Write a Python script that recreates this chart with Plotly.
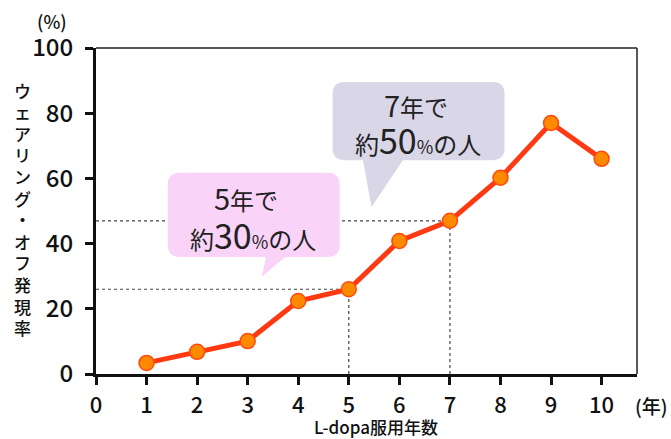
import plotly.graph_objects as go

years = [1, 2, 3, 4, 5, 6, 7, 8, 9, 10]
rate = [3.4, 6.8, 10.1, 22.4, 26.0, 40.8, 47.0, 60.2, 77.0, 66.0]
x_ticks = [0, 1, 2, 3, 4, 5, 6, 7, 8, 9, 10]
y_ticks = [0, 20, 40, 60, 80, 100]
y_title = "ウェアリング・オフ発現率"
x_title = "L-dopa服用年数"
highlight_years = [5, 7]
highlight_pct = [30, 50]

FONT = "Noto Sans CJK JP"
INK = "#111111"

fig = go.Figure()

# dotted guide lines from highlighted points
for hy in highlight_years:
    v = rate[years.index(hy)]
    fig.add_shape(type="line", xref="x", yref="y", x0=0, x1=hy, y0=v, y1=v,
                  line=dict(color="#444444", width=1.2, dash="dot"), layer="below")
    fig.add_shape(type="line", xref="x", yref="y", x0=hy, x1=hy, y0=0, y1=v,
                  line=dict(color="#444444", width=1.2, dash="dot"), layer="below")


def bubble(x0, x1, y0, y1, tx0, tx1, px, py, rx=0.24, ry=3.7):
    return (f"M {x0+rx},{y1} L {x1-rx},{y1} Q {x1},{y1} {x1},{y1-ry} "
            f"L {x1},{y0+ry} Q {x1},{y0} {x1-rx},{y0} L {tx1},{y0} L {px},{py} "
            f"L {tx0},{y0} L {x0+rx},{y0} Q {x0},{y0} {x0},{y0+ry} "
            f"L {x0},{y1-ry} Q {x0},{y1} {x0+rx},{y1} Z")


fig.add_shape(type="path", xref="x", yref="y", layer="below",
              path=bubble(1.42, 4.82, 35.9, 61.7, 3.36, 3.74, 3.28, 29.8),
              fillcolor="#FAD4F8", line=dict(width=0))
fig.add_shape(type="path", xref="x", yref="y", layer="below",
              path=bubble(4.68, 8.08, 65.6, 89.6, 5.28, 6.07, 5.45, 51.2),
              fillcolor="#D9D6E8", line=dict(width=0))

fig.add_trace(go.Scatter(
    x=years, y=rate, mode="lines+markers",
    line=dict(color="#FF3A12", width=5),
    marker=dict(size=15, color="#FF8A00", line=dict(color="#FF4A10", width=1.5)),
    showlegend=False, cliponaxis=False,
))

# bubble texts (two lines each)
bubble_pos = [((2.96, 54.3), (3.10, 42.9)), ((6.32, 82.8), (6.36, 71.8))]
for hy, pct, (p1, p2) in zip(highlight_years, highlight_pct, bubble_pos):
    fig.add_annotation(x=p1[0], y=p1[1], xref="x", yref="y", showarrow=False,
                       text=f"<span style='font-size:29px'>{hy}</span>年で",
                       font=dict(family=FONT, size=24, color="#222222"))
    fig.add_annotation(x=p2[0], y=p2[1], xref="x", yref="y", showarrow=False,
                       text=(f"約<span style='font-size:34px'>{pct}</span>"
                             f"<span style='font-size:18px'>%</span>の人"),
                       font=dict(family=FONT, size=24, color="#222222"))

# frame top/right thin lines
fig.add_shape(type="line", xref="paper", yref="paper", x0=0, x1=1, y0=1, y1=1,
              line=dict(color="#222222", width=1.5))
fig.add_shape(type="line", xref="paper", yref="paper", x0=1, x1=1, y0=0, y1=1,
              line=dict(color="#222222", width=1.5))

fig.update_xaxes(range=[0, 10.7], tickvals=x_ticks, ticks="outside", ticklen=8,
                 tickwidth=3, tickcolor=INK, showline=True, linewidth=3,
                 linecolor=INK, showgrid=False, zeroline=False,
                 tickfont=dict(family=FONT, size=22, color=INK, weight=500),
                 ticklabelstandoff=2)
fig.update_yaxes(range=[0, 100], tickvals=y_ticks, ticks="outside", ticklen=8,
                 tickwidth=3, tickcolor=INK, showline=True, linewidth=3,
                 linecolor=INK, showgrid=False, zeroline=False,
                 tickfont=dict(family=FONT, size=24, color=INK, weight=500),
                 ticklabelstandoff=7)

# vertical y-axis title, one character per row
chars = list(y_title)
top_px, pitch = 90, 21.6
for i, ch in enumerate(chars):
    ypx = top_px + i * pitch
    fig.add_annotation(xref="paper", yref="paper", x=(22 - 96) / 541,
                       y=(374 - ypx) / 326, xanchor="center", yanchor="middle",
                       showarrow=False, text=ch,
                       font=dict(family=FONT, size=17, color=INK, weight=500))

fig.add_annotation(xref="paper", yref="paper", x=(52 - 96) / 541, y=(374 - 21) / 326,
                   xanchor="center", yanchor="middle", showarrow=False, text="(%)",
                   font=dict(family=FONT, size=18, color=INK, weight=500))
fig.add_annotation(xref="paper", yref="paper", x=(651 - 96) / 541, y=-(405 - 374) / 326,
                   xanchor="center", yanchor="middle", showarrow=False, text="(年)",
                   font=dict(family=FONT, size=19, color=INK, weight=500))
fig.add_annotation(xref="paper", yref="paper", x=(376 - 96) / 541, y=-(426 - 374) / 326,
                   xanchor="center", yanchor="middle", showarrow=False, text=x_title,
                   font=dict(family=FONT, size=17, color=INK, weight=500))

fig.update_layout(width=671, height=439, margin=dict(l=96, r=34, t=48, b=65),
                  paper_bgcolor="white", plot_bgcolor="white",
                  font=dict(family=FONT))

fig.write_html("out.html")
